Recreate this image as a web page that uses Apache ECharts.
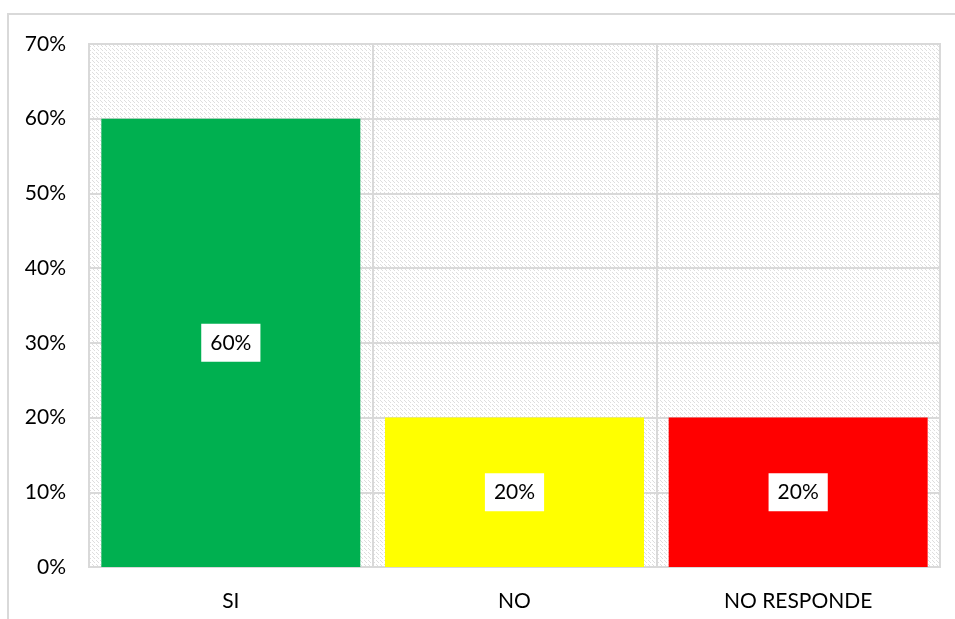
<!DOCTYPE html>
<html>
<head>
<meta charset="utf-8">
<script src="https://cdn.jsdelivr.net/npm/echarts@6/dist/echarts.min.js"></script>
<style>
html,body{margin:0;padding:0;background:#fff;}
#chart{width:955px;height:619px;}
</style>
</head>
<body>
<div id="chart"></div>
<script>
const categories = ['SI', 'NO', 'NO RESPONDE'];
const values = [0.6, 0.2, 0.2];
const barColors = ['#00B050', '#FFFF00', '#FF0000'];
const yTicks = { min: 0, max: 0.7, interval: 0.1 };

function makePattern() {
  const c = document.createElement('canvas');
  c.width = 8; c.height = 8;
  const ctx = c.getContext('2d');
  ctx.fillStyle = '#ffffff';
  ctx.fillRect(0, 0, 8, 8);
  ctx.fillStyle = '#dedede';
  for (let i = 0; i < 8; i++) {
    if (i % 4 === 3) continue;
    ctx.fillRect(i, i, 1, 1);
    ctx.fillRect((i + 4) % 8, i, 1, 1);
  }
  return c;
}

const chart = echarts.init(document.getElementById('chart'));
const font = 'Lato, "Liberation Sans", sans-serif';
chart.setOption({
  animation: false,
  backgroundColor: '#ffffff',
  graphic: [{
    type: 'rect',
    shape: { x: 8, y: 14, width: 1200, height: 1200 },
    style: { fill: 'none', stroke: '#d9d9d9', lineWidth: 2 },
    silent: true
  }],
  grid: {
    left: 89, right: 15, top: 44, bottom: 52,
    show: true,
    backgroundColor: { image: makePattern(), repeat: 'repeat' },
    borderColor: '#d9d9d9',
    borderWidth: 2
  },
  xAxis: {
    type: 'category',
    data: categories,
    axisTick: { show: false },
    axisLine: { show: true, lineStyle: { color: '#d9d9d9', width: 2 } },
    axisLabel: { color: '#000', fontSize: 21, fontFamily: font, margin: 24 },
    splitLine: { show: true, interval: 0, lineStyle: { color: '#d9d9d9', width: 2 } }
  },
  yAxis: {
    type: 'value',
    min: yTicks.min, max: yTicks.max, interval: yTicks.interval,
    axisLine: { show: false },
    axisTick: { show: false },
    axisLabel: {
      color: '#000', fontSize: 21, fontFamily: font, margin: 23,
      formatter: v => Math.round(v * 100) + '%'
    },
    splitLine: { show: true, lineStyle: { color: '#d9d9d9', width: 2 } }
  },
  series: [{
    type: 'bar',
    barCategoryGap: '8.7%',
    data: values.map((v, i) => ({ value: v, itemStyle: { color: barColors[i] } })),
    label: {
      show: true,
      position: 'inside',
      formatter: p => Math.round(p.value * 100) + '%',
      color: '#000',
      fontSize: 21,
      fontFamily: font,
      backgroundColor: '#ffffff',
      padding: [8, 9],
      lineHeight: 22
    }
  }]
});
</script>
</body>
</html>
